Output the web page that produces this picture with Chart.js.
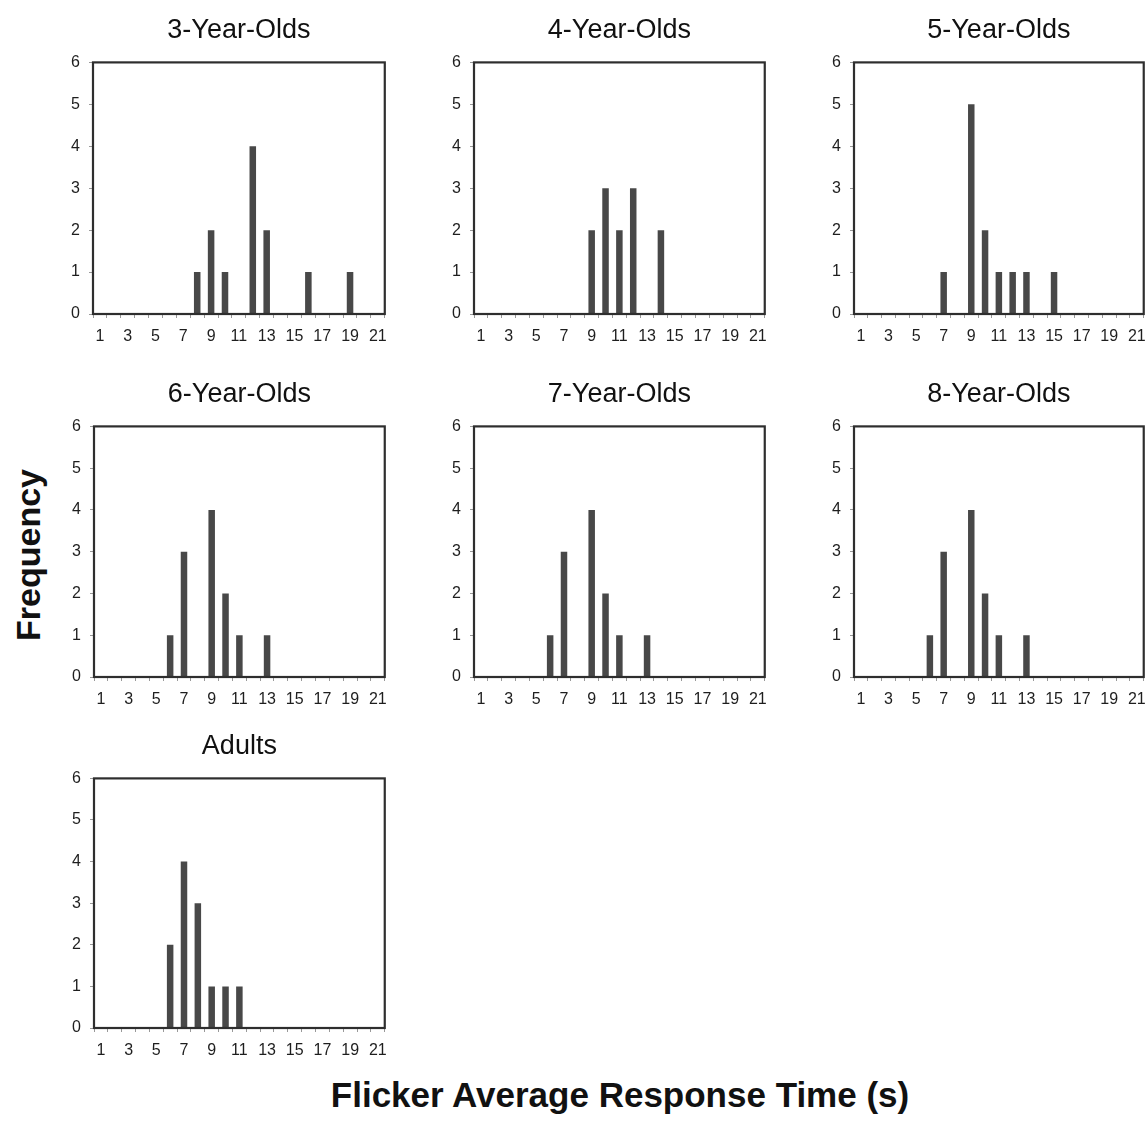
<!DOCTYPE html>
<html>
<head>
<meta charset="utf-8">
<script src="https://cdn.jsdelivr.net/npm/chart.js@4/dist/chart.umd.min.js"></script>
<style>
  html, body { margin: 0; padding: 0; background: #fff; overflow: hidden; }
  body { width: 1146px; height: 1121px; position: relative; font-family: "Liberation Sans", Arial, sans-serif; }
  canvas { position: absolute; }
  .ylabel { position: absolute; left: 28px; top: 555px; transform: translate(-50%, -50%) rotate(-90deg); font-weight: bold; font-size: 34px; color: #111; white-space: nowrap; }
  .xlabel { position: absolute; left: 620px; top: 1095px; transform: translate(-50%, -50%); font-weight: bold; font-size: 35px; color: #111; white-space: nowrap; }
</style>
</head>
<body>
<div class="ylabel">Frequency</div>
<div class="xlabel">Flicker Average Response Time (s)</div>
<script>
// x categories: response time in seconds
const responseTimes = [1, 2, 3, 4, 5, 6, 7, 8, 9, 10, 11, 12, 13, 14, 15, 16, 17, 18, 19, 20, 21];
const yTicks = [0, 1, 2, 3, 4, 5, 6];

// frequency per response time, one array per age group
const age3 = [0, 0, 0, 0, 0, 0, 0, 1, 2, 1, 0, 4, 2, 0, 0, 1, 0, 0, 1, 0, 0];
const age4 = [0, 0, 0, 0, 0, 0, 0, 0, 2, 3, 2, 3, 0, 2, 0, 0, 0, 0, 0, 0, 0];
const age5 = [0, 0, 0, 0, 0, 0, 1, 0, 5, 2, 1, 1, 1, 0, 1, 0, 0, 0, 0, 0, 0];
const age6 = [0, 0, 0, 0, 0, 1, 3, 0, 4, 2, 1, 0, 1, 0, 0, 0, 0, 0, 0, 0, 0];
const age7 = [0, 0, 0, 0, 0, 1, 3, 0, 4, 2, 1, 0, 1, 0, 0, 0, 0, 0, 0, 0, 0];
const age8 = [0, 0, 0, 0, 0, 1, 3, 0, 4, 2, 1, 0, 1, 0, 0, 0, 0, 0, 0, 0, 0];
const adults = [0, 0, 0, 0, 0, 2, 4, 3, 1, 1, 1, 0, 0, 0, 0, 0, 0, 0, 0, 0, 0];

const titles = ["3-Year-Olds", "4-Year-Olds", "5-Year-Olds", "6-Year-Olds", "7-Year-Olds", "8-Year-Olds", "Adults"];
const series = [age3, age4, age5, age6, age7, age8, adults];

// plot box of each panel on the page (left, top, right, bottom)
const boxes = [
  [93, 62, 385, 314],
  [474, 62, 765, 314],
  [854, 62, 1144, 314],
  [94, 426, 385, 677],
  [474, 426, 765, 677],
  [854, 426, 1144, 677],
  [94, 778, 385, 1028]
];

const FONT = "'Liberation Sans', Arial, sans-serif";
const Y_AXIS_W = 70;
const X_AXIS_H = 40;
const TITLE_H = 62;
const X_TICK_PAD = 9;   // chart.js also reserves about this much on the right of the x axis
const EXTRA_R = 11;

// frame around the plot area
const frame = {
  id: "frame",
  afterDatasetsDraw(chart) {
    const a = chart.chartArea;
    const ctx = chart.ctx;
    ctx.save();
    ctx.strokeStyle = "#2e2e2e";
    ctx.lineWidth = 2.2;
    ctx.strokeRect(a.left, a.top, a.right - a.left, a.bottom - a.top);
    ctx.restore();
  }
};

series.forEach((data, i) => {
  const [l, t, r, b] = boxes[i];
  const canvas = document.createElement("canvas");
  canvas.width = (r - l) + Y_AXIS_W + EXTRA_R;
  canvas.height = (b - t) + TITLE_H + X_AXIS_H;
  canvas.style.left = (l - Y_AXIS_W) + "px";
  canvas.style.top = (t - TITLE_H) + "px";
  document.body.appendChild(canvas);

  new Chart(canvas.getContext("2d"), {
    type: "bar",
    data: {
      labels: responseTimes,
      datasets: [{
        data: data,
        backgroundColor: "#484848",
        borderWidth: 0,
        barPercentage: 0.47,
        categoryPercentage: 1
      }]
    },
    options: {
      responsive: false,
      animation: false,
      devicePixelRatio: 1,
      layout: { padding: 0 },
      plugins: {
        legend: { display: false },
        tooltip: { enabled: false },
        title: {
          display: true,
          fullSize: false,
          text: titles[i],
          color: "#111",
          font: { family: FONT, size: 27, weight: "normal" },
          padding: { top: 14, bottom: 16 }
        }
      },
      scales: {
        x: {
          offset: true,
          afterFit(scale) { scale.height = X_AXIS_H; },
          border: { display: false },
          grid: { offset: true, drawOnChartArea: false, drawTicks: true, tickLength: 4, color: "#999", lineWidth: 1 },
          ticks: {
            autoSkip: false,
            maxRotation: 0,
            padding: X_TICK_PAD,
            color: "#1e1e1e",
            font: { family: FONT, size: 16 },
            callback: (value, index) => (responseTimes[index] % 2 === 1 ? responseTimes[index] : "")
          }
        },
        y: {
          min: yTicks[0],
          max: yTicks[yTicks.length - 1],
          afterFit(scale) { scale.width = Y_AXIS_W; },
          border: { display: false },
          grid: { drawOnChartArea: false, drawTicks: true, tickLength: 4, color: "#999" },
          ticks: {
            stepSize: 1,
            padding: 9,
            color: "#1e1e1e",
            font: { family: FONT, size: 16 }
          }
        }
      }
    },
    plugins: [frame]
  });
});
</script>
</body>
</html>
